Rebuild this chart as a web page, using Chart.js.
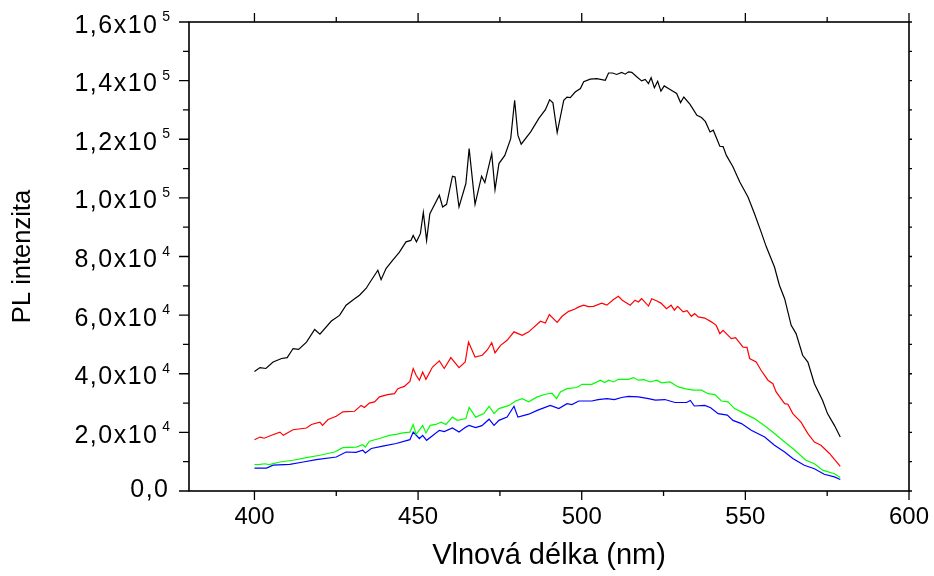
<!DOCTYPE html>
<html>
<head>
<meta charset="utf-8">
<script src="https://cdn.jsdelivr.net/npm/chart.js@4.4.1/dist/chart.umd.min.js"></script>
<style>
  html, body { margin: 0; padding: 0; background: #fff; }
</style>
</head>
<body>
<canvas id="pl-chart" width="934" height="576"></canvas>
<script>
// --- axis ticks ---
const X_TICKS = [400, 450, 500, 550, 600];
const X_MINOR = [425, 475, 525, 575];
const Y_TICKS = [0, 20000, 40000, 60000, 80000, 100000, 120000, 140000, 160000];
const Y_MINOR = [10000, 30000, 50000, 70000, 90000, 110000, 130000, 150000];
const Y_TICK_TEXT = ['0,0', '2,0x10', '4,0x10', '6,0x10', '8,0x10', '1,0x10', '1,2x10', '1,4x10', '1,6x10'];
const Y_TICK_EXP = ['', '4', '4', '4', '4', '5', '5', '5', '5'];

// --- series (wavelength in nm, PL intensity) ---
const blackNm = [400, 401.7, 403.5, 405.7, 408.3, 410, 411.8, 413.5, 415.9, 418.4, 420, 423.5, 426, 428, 430.6, 432.1, 434.1, 435.7, 437.7, 438.7,
  440.2, 442.2, 444.3, 446.3, 447.8, 448.5, 449.5, 450.7, 451.6, 452.6, 453.6, 456.5, 457.5, 458.7, 460.5, 461.3, 462.5, 464.6, 465.6, 467.4,
  469.4, 470.4, 472.5, 473.5, 474.7, 476.5, 478.3, 479.5, 480.5, 481.5, 484.4, 486.9, 488.9, 490.2, 491.2, 492.5, 494.5, 495.5, 496.5, 498,
  499.6, 500.6, 502.6, 504.6, 507.2, 508.2, 509.4, 510.7, 512.2, 513.3, 514.3, 515.3, 516.8, 518.3, 519.4, 520.4, 521.2, 522.2, 523.2, 524.2,
  525.2, 527, 529, 530.2, 531.2, 533.1, 535.2, 536.6, 537.8, 539.2, 540.2, 542.2, 543.2, 544.2, 546.2, 548.3, 550.8, 552.8, 554.8, 556.4,
  558.9, 560.4, 562, 564, 565.5, 567.5, 569.1, 571.1, 573.6, 575.1, 577.2, 579];
const blackPL = [40800, 42100, 41800, 44000, 45200, 45500, 48600, 48300, 50800, 55100, 53500, 58000, 59900, 63400, 65600, 66800, 69100, 71900, 75300, 72100,
  75900, 78700, 81500, 85000, 85500, 87200, 85000, 87800, 95000, 85500, 94600, 100900, 96900, 97800, 107400, 107100, 96900, 104900, 116800, 97800,
  107400, 105200, 115100, 102800, 111700, 114500, 120200, 133300, 121400, 118300, 122500, 127100, 130100, 133500, 132400, 122300, 133300, 134400, 134200, 136100,
  137300, 139600, 140500, 140700, 140100, 142600, 142600, 142100, 142800, 142200, 143000, 142800, 141300, 139900, 140400, 139000, 141000, 137600, 139800, 136400,
  138200, 137000, 135600, 132500, 134400, 131900, 128200, 127400, 126000, 122500, 123100, 117600, 117500, 114500, 110600, 105400, 100300, 94600, 88400, 83300,
  76400, 70200, 65600, 56500, 53700, 46300, 44000, 36600, 30900, 26400, 22400, 18400];

const redNm = [400, 401.7, 403, 405.2, 407.8, 408.8, 411.8, 415.9, 417.4, 420, 420.8, 422.5, 425, 427, 430.6, 432.6, 433.6, 435.1, 436.7, 438.2,
  440.7, 442.8, 443.8, 445.8, 447.5, 448.5, 449.4, 450.4, 451.4, 452.4, 454.4, 456.5, 458, 460, 462.5, 464.4, 465.4, 467.4, 469.6, 471.2,
  472.5, 473.5, 475.2, 477.2, 479.3, 481.8, 483.8, 487.4, 488.9, 490.1, 492.5, 494, 496, 497.8, 499.1, 500.6, 502, 503.6, 506.1, 507.7,
  509.7, 511.2, 512.4, 514.8, 516.3, 517.3, 518.3, 520.4, 521.4, 523, 524.2, 525.9, 527.3, 528.3, 529.3, 531, 532.2, 533.5, 534.5, 535.6,
  537.6, 539.6, 541.1, 542.2, 543.2, 545.7, 547, 549.3, 550.5, 551.3, 553.3, 554.8, 556.9, 558.4, 559.4, 562, 563, 564.5, 567, 569.1,
  571.1, 573.1, 575.7, 579];
const redPL = [17500, 18400, 18000, 19000, 20100, 19000, 20900, 21500, 22700, 23500, 22400, 24400, 25500, 27000, 27200, 29200, 28500, 30000, 30400, 32100,
  32900, 33200, 34900, 35700, 37400, 41800, 39500, 37800, 40600, 38100, 42300, 44400, 41800, 45500, 42100, 44000, 50800, 45700, 46300, 48200,
  50600, 47100, 49700, 51400, 54300, 53100, 54300, 57900, 57300, 60200, 57500, 59600, 61300, 62000, 62800, 63400, 62900, 63000, 64100, 63400,
  65300, 66400, 65100, 63400, 65100, 64500, 65600, 63100, 65600, 64800, 64100, 62200, 63400, 61700, 63000, 61100, 61500, 59600, 60500, 59400,
  59000, 57700, 56500, 53700, 54800, 52000, 52300, 49100, 49000, 45200, 44000, 41200, 37800, 36600, 33800, 29800, 29600, 26400, 23500, 19600,
  16700, 15600, 12800, 8400];

const greenNm = [400, 401.7, 403.2, 404.5, 407.8, 411.8, 415.9, 420, 424.5, 427, 431.1, 433.1, 433.9, 435.1, 438.2, 441.2, 443.3, 445.3, 447.5, 448.5,
  449.4, 451.4, 452.4, 453.7, 455.4, 457, 458.5, 460.5, 462, 464.6, 465.6, 467.6, 470.1, 471.7, 473.2, 474.7, 477.8, 479.8, 481.8, 483.8,
  486.4, 488.9, 490.9, 492.3, 493.5, 495.5, 498.5, 500.1, 503.1, 505.7, 507, 508.3, 509.7, 511.2, 514.3, 515.8, 517.3, 519, 520.9, 522.9,
  524.4, 527, 529.5, 531.5, 534, 536.6, 538.6, 540.7, 542.7, 544.7, 546.7, 549.8, 552.8, 556.4, 558.9, 562, 564.5, 568.5, 571.1, 573.6,
  577.2, 579];
const greenPL = [9000, 9100, 9300, 9000, 9900, 10500, 11400, 12200, 13300, 14800, 15000, 15800, 15000, 17000, 17900, 19000, 19300, 19800, 20100, 22700,
  19300, 22400, 19800, 22400, 22700, 23500, 22700, 25200, 24100, 24700, 28500, 25200, 26400, 28900, 26400, 28100, 29200, 30700, 31500, 30400,
  32100, 33000, 33400, 31500, 33800, 34900, 35300, 36400, 36400, 37800, 37000, 37800, 37200, 38100, 38100, 38700, 37800, 38000, 37200, 37800,
  36900, 37200, 35500, 34900, 34400, 34400, 33200, 32900, 30700, 30400, 28100, 26400, 24700, 21800, 19600, 16700, 14500, 10500, 9300, 7100,
  5900, 4600];

const blueNm = [400, 403.7, 405.7, 410.8, 414.9, 418.9, 425, 428, 431, 433.1, 433.9, 435.7, 439.2, 443.3, 447.5, 448.5, 450.4, 451.4, 452.6, 456.5,
  458, 460.5, 462.5, 464.6, 465.6, 467.6, 469.5, 471.7, 473.2, 474.7, 477.2, 479.3, 480.5, 483.8, 486.4, 490.4, 493, 495.5, 497, 499.1,
  503.1, 505, 507.7, 510, 512.2, 514.3, 517.3, 520.4, 522.5, 525.4, 528.5, 532, 533.2, 534.4, 537.6, 539.4, 541.7, 544.5, 546.2, 548.8,
  551.8, 555.9, 558.9, 562, 564.5, 568, 571.1, 574.1, 577.2, 579];
const bluePL = [7800, 7800, 8800, 9100, 9900, 10700, 11600, 13300, 13200, 13900, 13000, 14500, 15300, 16200, 17500, 20100, 17900, 19000, 17300, 20700,
  20300, 21500, 20100, 21800, 22400, 21600, 22300, 24500, 22400, 24100, 25200, 28900, 25200, 26200, 27500, 29200, 28100, 29800, 29500, 30700,
  30700, 31200, 31500, 31200, 31900, 32300, 32100, 31500, 31000, 31200, 30200, 30200, 30900, 29000, 29200, 28400, 26400, 25900, 24100, 23000,
  20700, 18400, 15600, 13300, 11100, 8800, 7600, 5700, 4800, 3900];

const FONT = '"Liberation Sans", Arial, sans-serif';

function toPoints(xs, ys) {
    return xs.map((x, i) => ({ x: x, y: ys[i] }));
}

function makeSet(label, xs, ys, color) {
    return {
        label: label,
        data: toPoints(xs, ys),
        borderColor: color,
        backgroundColor: color,
        borderWidth: 1.2,
        pointRadius: 0,
        tension: 0,
        fill: false
    };
}

// frame, tick marks and the y labels with exponents
const framePlugin = {
    id: 'frame',
    afterDraw(chart) {
        const ctx = chart.ctx;
        const a = chart.chartArea;
        const xs = chart.scales.x;
        const ys = chart.scales.y;
        ctx.save();
        ctx.strokeStyle = '#000';
        ctx.lineWidth = 1.6;
        ctx.strokeRect(a.left, a.top, a.right - a.left, a.bottom - a.top);

        ctx.lineWidth = 1.3;
        ctx.beginPath();
        X_TICKS.forEach(v => {
            const px = xs.getPixelForValue(v);
            ctx.moveTo(px, a.bottom); ctx.lineTo(px, a.bottom + 9);
            ctx.moveTo(px, a.top); ctx.lineTo(px, a.top - 9);
        });
        X_MINOR.forEach(v => {
            const px = xs.getPixelForValue(v);
            ctx.moveTo(px, a.bottom); ctx.lineTo(px, a.bottom + 5);
            ctx.moveTo(px, a.top); ctx.lineTo(px, a.top - 5);
        });
        Y_TICKS.forEach(v => {
            const py = ys.getPixelForValue(v);
            ctx.moveTo(a.left, py); ctx.lineTo(a.left - 10, py);
            ctx.moveTo(a.right, py); ctx.lineTo(a.right + 3, py);
        });
        Y_MINOR.forEach(v => {
            const py = ys.getPixelForValue(v);
            ctx.moveTo(a.left, py); ctx.lineTo(a.left - 6, py);
            ctx.moveTo(a.right, py); ctx.lineTo(a.right + 3, py);
        });
        ctx.stroke();

        // y tick labels, e.g. 1,6x10 with a raised 5
        ctx.fillStyle = '#000';
        ctx.textAlign = 'right';
        ctx.textBaseline = 'alphabetic';
        const spacing = 1.5;
        const hasSpacing = 'letterSpacing' in ctx;
        Y_TICKS.forEach((v, i) => {
            const py = ys.getPixelForValue(v);
            const exp = Y_TICK_EXP[i];
            if (hasSpacing) ctx.letterSpacing = spacing + 'px';
            ctx.font = '25px ' + FONT;
            if (exp) {
                ctx.fillText(Y_TICK_TEXT[i], 157 + spacing, py + 10.5);
                if (hasSpacing) ctx.letterSpacing = '0px';
                ctx.font = '14px ' + FONT;
                ctx.fillText(exp, 170, py - 1);
            } else {
                ctx.fillText(Y_TICK_TEXT[i], 168 + spacing, py + 5.5);
            }
        });
        if (hasSpacing) ctx.letterSpacing = '0px';
        ctx.restore();
    }
};

new Chart(document.getElementById('pl-chart'), {
    type: 'line',
    data: {
        datasets: [
            makeSet('1', blackNm, blackPL, '#000000'),
            makeSet('2', redNm, redPL, '#ff0000'),
            makeSet('3', greenNm, greenPL, '#00ff00'),
            makeSet('4', blueNm, bluePL, '#0000ff')
        ]
    },
    options: {
        responsive: false,
        animation: false,
        devicePixelRatio: 1,
        layout: { padding: { top: 22, right: 25, left: 0, bottom: 0 } },
        plugins: {
            legend: { display: false },
            tooltip: { enabled: false }
        },
        scales: {
            x: {
                type: 'linear',
                min: 380,
                max: 600,
                afterBuildTicks: s => { s.ticks = X_TICKS.map(v => ({ value: v })); },
                afterFit: s => { s.height = 85; s.paddingLeft = 0; s.paddingRight = 0; },
                grid: { display: false, drawTicks: false },
                border: { display: false },
                ticks: {
                    color: '#000',
                    font: { family: FONT, size: 24 },
                    padding: 12,
                    maxRotation: 0,
                    autoSkip: false
                },
                title: {
                    display: true,
                    text: 'Vlnová délka (nm)',
                    color: '#000',
                    font: { family: FONT, size: 29 },
                    padding: { top: 0, bottom: 3 }
                }
            },
            y: {
                type: 'linear',
                min: 0,
                max: 160000,
                afterBuildTicks: s => { s.ticks = Y_TICKS.map(v => ({ value: v })); },
                afterFit: s => { s.width = 189; s.paddingTop = 0; s.paddingBottom = 0; },
                grid: { display: false, drawTicks: false },
                border: { display: false },
                ticks: { display: false },
                title: {
                    display: true,
                    text: 'PL intenzita',
                    color: '#000',
                    font: { family: FONT, size: 25.5 },
                    padding: { top: 8, bottom: 0 }
                }
            }
        }
    },
    plugins: [framePlugin]
});
</script>
</body>
</html>
